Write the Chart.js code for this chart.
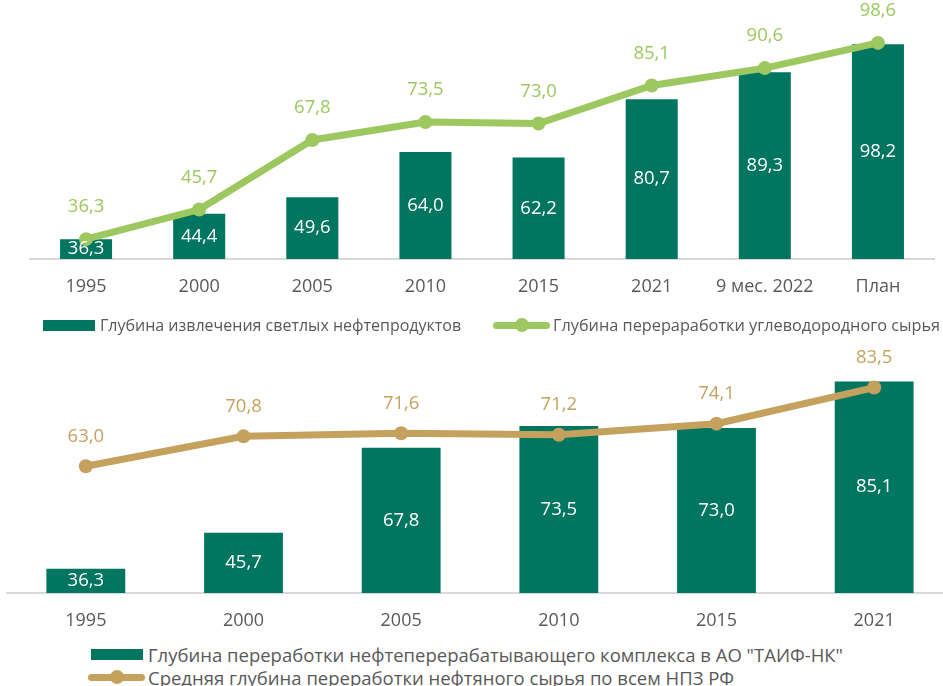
<!DOCTYPE html>
<html>
<head>
<meta charset="utf-8">
<script src="https://cdn.jsdelivr.net/npm/chart.js@4"></script>
<style>
  html, body { margin: 0; padding: 0; background: #fff; width: 943px; height: 686px; overflow: hidden; position: relative; font-family: "Open Sans", sans-serif; }
  .wrap { position: absolute; left: 0; }
  .legend { position: absolute; color: #595959; white-space: nowrap; display: flex; align-items: center; }
  .sw-bar { display: inline-block; background: #007560; }
  .sw-line { display: inline-block; position: relative; }
  .sw-line .ln { position: absolute; left: 0; right: 0; top: 50%; border-radius: 4px; }
  .sw-line .pt { position: absolute; left: 50%; top: 50%; border-radius: 50%; }
</style>
</head>
<body>
<div class="wrap" id="w1" style="top:0;width:943px;height:300px;"><canvas id="c1"></canvas></div>
<div class="wrap" id="w2" style="top:330px;width:960px;height:304px;"><canvas id="c2"></canvas></div>

<div class="legend" style="left:43px;top:316px;height:18px;font-size:16px;">
  <span class="sw-bar" style="width:52px;height:11px;margin-right:5px;"></span>
  <span>Глубина извлечения светлых нефтепродуктов</span>
</div>
<div class="legend" style="left:493px;top:316px;height:18px;font-size:16.3px;">
  <span class="sw-line" style="width:57px;height:18px;margin-right:3px;">
    <span class="ln" style="height:7px;margin-top:-3.5px;background:#9CC85F;"></span>
    <span class="pt" style="width:14px;height:14px;margin-left:-7px;margin-top:-7px;background:#9CC85F;"></span>
  </span>
  <span>Глубина перераработки углеводородного сырья</span>
</div>

<div class="legend" style="left:91px;top:644px;height:20px;font-size:18.5px;">
  <span class="sw-bar" style="width:52px;height:11px;margin-right:5px;"></span>
  <span>Глубина переработки нефтеперерабатывающего комплекса в АО "ТАИФ-НК"</span>
</div>
<div class="legend" style="left:88px;top:667px;height:20px;font-size:18.5px;">
  <span class="sw-line" style="width:57px;height:20px;margin-right:3px;">
    <span class="ln" style="height:7px;margin-top:-3.5px;background:#C4A25E;"></span>
    <span class="pt" style="width:14px;height:14px;margin-left:-7px;margin-top:-7px;background:#C4A25E;"></span>
  </span>
  <span>Средняя глубина переработки нефтяного сырья по всем НПЗ РФ</span>
</div>

<script>
// ---- Data: top chart ----
const topCategories = ["1995", "2000", "2005", "2010", "2015", "2021", "9 мес. 2022", "План"];
const topLightProducts = [36.3, 44.4, 49.6, 64.0, 62.2, 80.7, 89.3, 98.2];
const topHydrocarbonDepth = [36.3, 45.7, 67.8, 73.5, 73.0, 85.1, 90.6, 98.6];
const topSeriesNames = ["Глубина извлечения светлых нефтепродуктов", "Глубина перераработки углеводородного сырья"];

// ---- Data: bottom chart ----
const bottomCategories = ["1995", "2000", "2005", "2010", "2015", "2021"];
const bottomTaifDepth = [36.3, 45.7, 67.8, 73.5, 73.0, 85.1];
const bottomRussiaAvgDepth = [63.0, 70.8, 71.6, 71.2, 74.1, 83.5];
const bottomSeriesNames = ["Глубина переработки нефтеперерабатывающего комплекса в АО \"ТАИФ-НК\"", "Средняя глубина переработки нефтяного сырья по всем НПЗ РФ"];

const BAR_COLOR = "#007560";
const TOP_LINE = "#9CC85F";
const BOT_LINE = "#C4A25E";
const FONT = "'Open Sans', sans-serif";

const fmt = v => v.toFixed(1).replace('.', ',');

const valueLabels = {
  id: 'valueLabels',
  afterDatasetsDraw(chart) {
    const ctx = chart.ctx;
    const ys = chart.scales.y;
    const basePx = ys.getPixelForValue(ys.min);
    chart.data.datasets.forEach((ds, i) => {
      const meta = chart.getDatasetMeta(i);
      if (meta.hidden) return;
      meta.data.forEach((el, j) => {
        const v = ds.data[j];
        const x = el.x;
        let y;
        if (meta.type === 'bar') y = (ys.getPixelForValue(v) + basePx) / 2;
        else y = ys.getPixelForValue(v) - ds.labelOffset;
        ctx.save();
        ctx.font = "18.5px " + FONT;
        ctx.fillStyle = ds.labelColor;
        ctx.textAlign = 'center';
        ctx.textBaseline = 'middle';
        ctx.fillText(fmt(v), x, y);
        ctx.restore();
      });
    });
  }
};

function makeChart(id, cats, barData, lineData, names, lineColor, yMax, padTop, padLeft, padRight, barPct, lblOffset) {
  return new Chart(document.getElementById(id), {
    type: 'bar',
    data: {
      labels: cats,
      datasets: [
        {
          type: 'line', label: names[1], data: lineData,
          borderColor: lineColor, backgroundColor: lineColor,
          borderWidth: 7, pointRadius: 7, pointHoverRadius: 7,
          pointBackgroundColor: lineColor, pointBorderWidth: 0,
          tension: 0, order: 0, labelColor: lineColor, labelOffset: lblOffset
        },
        {
          type: 'bar', label: names[0], data: barData,
          backgroundColor: BAR_COLOR, borderWidth: 0,
          categoryPercentage: 1, barPercentage: barPct,
          order: 1, labelColor: '#FFFFFF'
        }
      ]
    },
    options: {
      responsive: true, maintainAspectRatio: false, animation: false,
      layout: { padding: { top: padTop, left: padLeft, right: padRight, bottom: 0 } },
      plugins: { legend: { display: false }, tooltip: { enabled: false } },
      scales: {
        x: {
          grid: { display: false, drawTicks: false },
          border: { display: true, color: '#D9D9D9', width: 2 },
          ticks: { color: '#595959', font: { family: FONT, size: 18 }, padding: 17, maxRotation: 0, autoSkip: false },
          afterFit: (axis) => { axis.height = 41; }
        },
        y: { display: false, min: 30, max: yMax }
      }
    },
    plugins: [valueLabels]
  });
}

makeChart('c1', topCategories, topLightProducts, topHydrocarbonDepth, topSeriesNames, TOP_LINE, 110, 5, 29.5, 8.5, 0.46, 32);
makeChart('c2', bottomCategories, bottomTaifDepth, bottomRussiaAvgDepth, bottomSeriesNames, BOT_LINE, 95, 13.4, 5, 5, 0.5, 30);
</script>
</body>
</html>
